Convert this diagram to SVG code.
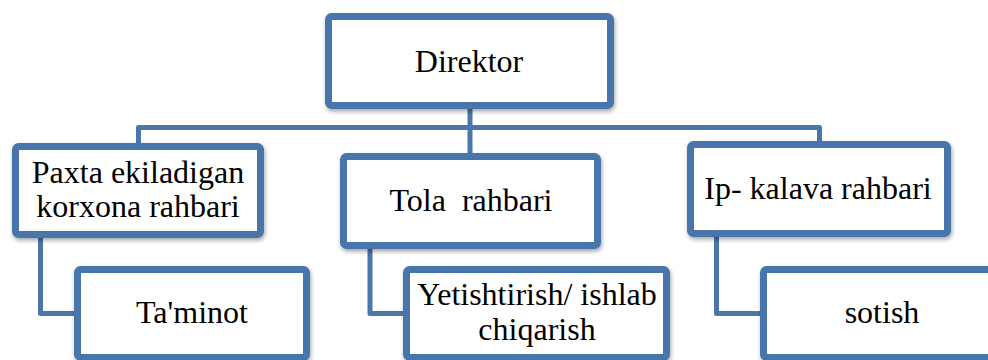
<svg xmlns="http://www.w3.org/2000/svg" width="988" height="360" viewBox="0 0 988 360">
<defs>
<filter id="sh" x="-10%" y="-10%" width="125%" height="130%">
<feDropShadow dx="1" dy="2.5" stdDeviation="2" flood-color="#000" flood-opacity="0.35"/>
</filter>
<style>
.box{fill:#fff;stroke:#4a76aa;stroke-width:7;filter:url(#sh)}
.con{fill:none;stroke:#4a76aa;stroke-width:5;stroke-linejoin:round}
text{font-family:"Liberation Serif","Times New Roman",serif;font-size:32px;fill:#000;text-anchor:middle}
</style>
</defs>
<rect width="988" height="360" fill="#fff"/>
<g id="connectors">
<path class="con" d="M470,109 V153"/>
<path class="con" d="M138.5,148 V127.5 H819.5 V144"/>
<path class="con" d="M40.5,236 V313.5 H76"/>
<path class="con" d="M370,247 V313.5 H405"/>
<path class="con" d="M716.5,235 V313.5 H762"/>
</g>
<g id="director">
<rect class="box" x="328.5" y="16.5" width="282" height="89" rx="3"/>
<text x="469" y="72">Direktor</text>
</g>
<g id="paxta">
<rect class="box" x="15.5" y="146.5" width="245" height="88" rx="3"/>
<text x="138" y="183">Paxta ekiladigan</text>
<text x="138" y="217">korxona rahbari</text>
</g>
<g id="tola">
<rect class="box" x="343.5" y="156.5" width="254" height="89" rx="3"/>
<text x="471" y="211" xml:space="preserve">Tola  rahbari</text>
</g>
<g id="ipkalava">
<rect class="box" x="690.5" y="144.5" width="257" height="89" rx="3"/>
<text x="818" y="199">Ip- kalava rahbari</text>
</g>
<g id="taminot">
<rect class="box" x="77.5" y="269.5" width="229" height="88" rx="3"/>
<text x="192" y="323">Ta'minot</text>
</g>
<g id="yetishtirish">
<rect class="box" x="406.5" y="269.5" width="260" height="88" rx="3"/>
<text x="537" y="305">Yetishtirish/ ishlab</text>
<text x="537" y="340">chiqarish</text>
</g>
<g id="sotish">
<rect class="box" x="763.5" y="269.5" width="260" height="88" rx="3"/>
<text x="882" y="323">sotish</text>
</g>
</svg>
